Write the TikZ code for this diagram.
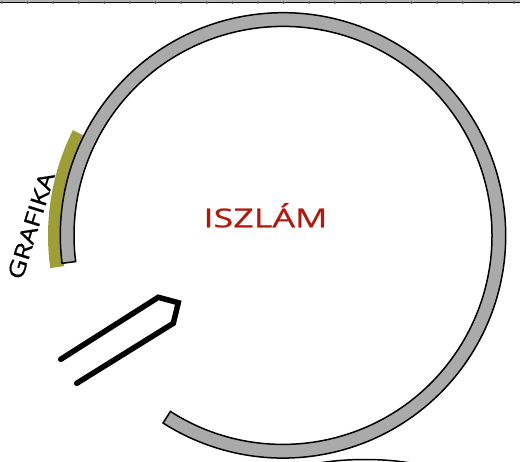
\documentclass[tikz,border=0pt]{standalone}
\usepackage{fontspec}
\setmainfont{Open Sans}
\newfontfamily\titlefont[FakeStretch=1.38,FakeBold=0.8]{Open Sans}
\newfontfamily\sidefont[FakeStretch=1.25,FakeBold=0.8]{Open Sans}
\usetikzlibrary{calc}
\definecolor{ringgray}{HTML}{AAAAAA}
\definecolor{olive}{HTML}{9E9E37}
\definecolor{islamred}{HTML}{B0190E}
\definecolor{bandgray}{HTML}{B4B4B4}
\tikzset{
  ringpart/.style={fill=ringgray, draw=black, line width=1.5pt},
  oliveband/.style={fill=olive, draw=none},
  hairpin/.style={draw=black, line width=5.5pt, line cap=round, line join=miter},
  titletext/.style={text=islamred, font={\titlefont\fontsize{26}{28}\selectfont}, inner sep=0pt, anchor=base},
  sidetext/.style={text=black, font={\sidefont\fontsize{22}{24}\selectfont}, inner sep=0pt, anchor=base},
}
\begin{document}
\begin{tikzpicture}[x=1pt,y=1pt]
\useasboundingbox (0,0) rectangle (520,-462);
% top strip
\fill[bandgray] (0,0) rectangle (520,-3);
\draw[black, line width=1pt] (0,-3) -- (520,-3);
\foreach \k in {0,...,20} {\fill[black!70] ({2+25.6*\k},-2.6) circle (1.4);}
\coordinate (C) at (283,-235.4);
% olive band
\fill[oliveband] ($(C)+(153.4:221)$) arc[start angle=153.4, end angle=188, radius=221]
  -- ($(C)+(188:235)$) arc[start angle=188, end angle=153.4, radius=235] -- cycle;
% ring
\draw[ringpart] ($(C)+(187.2:222.7)$) arc[start angle=187.2, end angle=-122.6, radius=222.7]
  -- ($(C)+(-122.6:209)$) arc[start angle=-122.6, end angle=187.2, radius=209] -- cycle;
% bottom ellipse
\draw[fill=white, draw=black, line width=1.5pt] (365,-479.5) ellipse[x radius=80, y radius=20];
% hairpin
\coordinate (h1) at (60.7,-359.3);
\coordinate (h2) at (158.3,-297.3);
\coordinate (h3) at (178.3,-302.7);
\coordinate (h4) at (173.3,-323.3);
\coordinate (h5) at (76.7,-383.3);
\draw[hairpin] (h1) -- (h2) -- (h3) -- (h4) -- (h5);
% texts
\node[titletext] (islam) at (265.5,-227.3) {ISZLÁM};
\node[sidetext, rotate=72.6] (grafika) at (38.5,-228) {GRAFIKA};
\end{tikzpicture}
\end{document}
